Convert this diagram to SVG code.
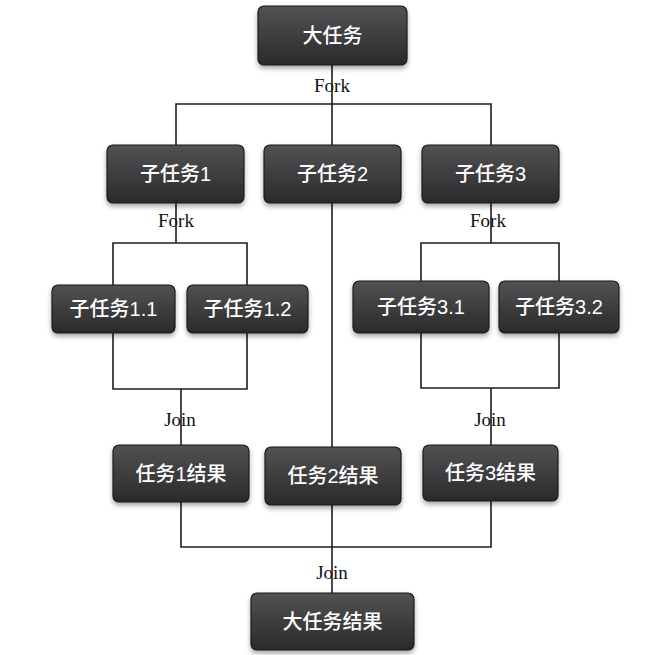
<svg xmlns="http://www.w3.org/2000/svg" width="670" height="655" viewBox="0 0 670 655">
<defs>
<linearGradient id="g" x1="0" y1="0" x2="0" y2="1">
<stop offset="0" stop-color="#525254"/>
<stop offset="1" stop-color="#2a2a2b"/>
</linearGradient>
<filter id="sh" x="-10%" y="-10%" width="120%" height="140%">
<feDropShadow dx="0" dy="3" stdDeviation="2.5" flood-color="#000" flood-opacity="0.35"/>
</filter>
</defs>
<style>
.box{fill:url(#g);stroke:#1b1b1b;stroke-width:1.2;filter:url(#sh)}
.t{fill:#fff;font-family:"Liberation Sans","Noto Sans CJK SC",sans-serif;font-size:20px;font-weight:500;text-anchor:middle;dominant-baseline:central}
.lbl{fill:#111;font-family:"Liberation Serif","Noto Sans CJK SC",serif;font-size:19px;text-anchor:middle}
.ln{fill:none;stroke:#1e1e1e;stroke-width:1.6}
</style>
<rect width="670" height="655" fill="#fff"/>
<g id="connectors">
<text class="lbl" x="332" y="92">Fork</text>
<text class="lbl" x="176" y="227">Fork</text>
<text class="lbl" x="488" y="227">Fork</text>
<text class="lbl" x="180" y="426">Join</text>
<text class="lbl" x="490" y="426">Join</text>
<text class="lbl" x="332" y="579">Join</text>
<path class="ln" d="M332,65 V593 M176,145 V104 H491 V145"/>
<path class="ln" d="M176,203 V243 M113,286 V243 H247 V286"/>
<path class="ln" d="M113,333 V389 H247 V333 M181,389 V445"/>
<path class="ln" d="M491,203 V243 M421,281 V243 H559 V281"/>
<path class="ln" d="M421,333 V388 H559 V333 M491,388 V445"/>
<path class="ln" d="M181,502 V547 H491 V501"/>
</g>
<g id="n0"><rect class="box" x="258" y="6" width="149" height="59" rx="6"/><text class="t" x="332.5" y="35.5">大任务</text></g>
<g id="n1"><rect class="box" x="107" y="145" width="137" height="58" rx="6"/><text class="t" x="175.5" y="174">子任务1</text></g>
<g id="n2"><rect class="box" x="264" y="145" width="137" height="58" rx="6"/><text class="t" x="332.5" y="174">子任务2</text></g>
<g id="n3"><rect class="box" x="422" y="145" width="137" height="58" rx="6"/><text class="t" x="490.5" y="174">子任务3</text></g>
<g id="n11"><rect class="box" x="52" y="285" width="123" height="48" rx="6"/><text class="t" x="113.5" y="309">子任务1.1</text></g>
<g id="n12"><rect class="box" x="187" y="285" width="121" height="48" rx="6"/><text class="t" x="247.5" y="309">子任务1.2</text></g>
<g id="n31"><rect class="box" x="353" y="281" width="136" height="52" rx="6"/><text class="t" x="421" y="307">子任务3.1</text></g>
<g id="n32"><rect class="box" x="499" y="281" width="120" height="52" rx="6"/><text class="t" x="559" y="307">子任务3.2</text></g>
<g id="r1"><rect class="box" x="113" y="445" width="136" height="57" rx="6"/><text class="t" x="181" y="473.5">任务1结果</text></g>
<g id="r2"><rect class="box" x="265" y="447" width="136" height="58" rx="6"/><text class="t" x="333" y="476">任务2结果</text></g>
<g id="r3"><rect class="box" x="423" y="445" width="135" height="56" rx="6"/><text class="t" x="490.5" y="473">任务3结果</text></g>
<g id="rf"><rect class="box" x="251" y="593" width="163" height="57" rx="6"/><text class="t" x="332.5" y="621.5">大任务结果</text></g>
</svg>
